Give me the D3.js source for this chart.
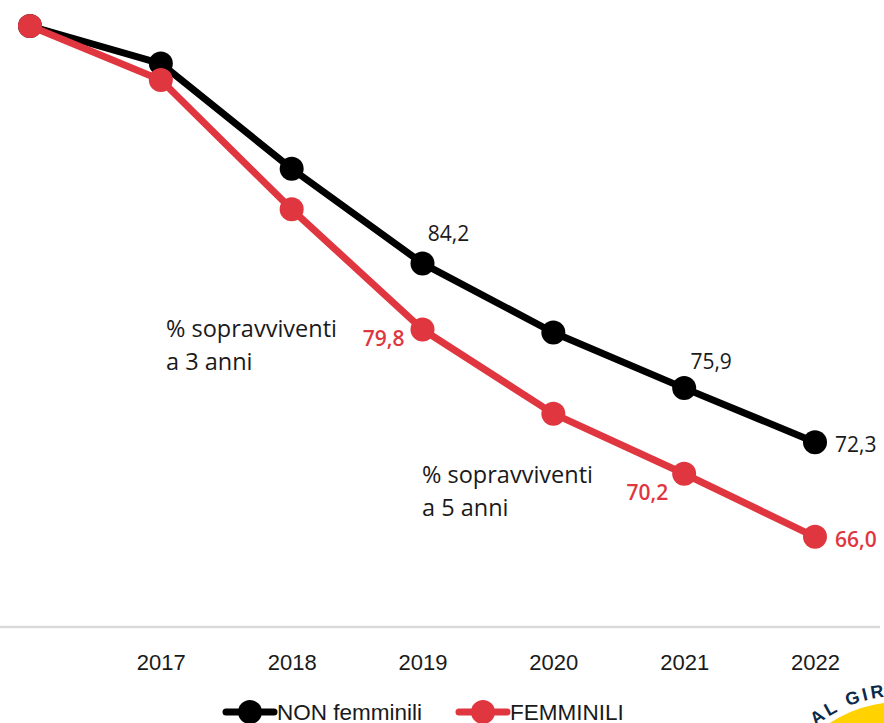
<!DOCTYPE html>
<html>
<head>
<meta charset="utf-8">
<script src="https://cdnjs.cloudflare.com/ajax/libs/d3/7.8.5/d3.min.js"></script>
<style>
  body { margin: 0; background: #fff; }
  svg { display: block; }
</style>
</head>
<body>
<svg id="plotCanvas" width="884" height="723"></svg>
<script>
// data
var years = ["2016", "2017", "2018", "2019", "2020", "2021", "2022"];
var tickLabels = ["", "2017", "2018", "2019", "2020", "2021", "2022"];
var nonFemminili = [100, 97.5, 90.5, 84.2, 79.6, 75.9, 72.3];
var femminili = [100, 96.4, 87.8, 79.8, 74.2, 70.2, 66.0];
var seriesNames = ["NON femminili", "FEMMINILI"];

var canvasWidth = 884;
var canvasHeight = 723;
var black = "#000000";
var red = "#E0363F";
var axisFont = "'Liberation Sans', Arial, sans-serif";
var textFont = "'Open Sans', 'Noto Sans', sans-serif";

var canvas = d3.select("#plotCanvas");

var x = d3.scalePoint()
        .domain(years)
        .range([30, 815]);

var y = d3.scaleLinear()
        .domain([60, 100])
        .range([627, 26]);

//grey baseline
canvas.append("line")
        .attr("x1", 0)
        .attr("x2", 880)
        .attr("y1", y(60))
        .attr("y2", y(60))
        .attr("stroke", "#d9d9d9")
        .attr("stroke-width", 2.5);

//x axis: year labels only
var axis = d3.axisBottom(x)
        .tickSize(0)
        .tickPadding(27)
        .tickFormat(function(d, i) { return tickLabels[i]; });

var gAxis = canvas.append("g")
        .attr("transform", "translate(0," + y(60) + ")")
        .call(axis);
gAxis.select(".domain").remove();
gAxis.selectAll("text")
        .attr("font-family", axisFont)
        .attr("font-size", "22px")
        .attr("fill", "#1a1a1a");

var line = d3.line()
        .x(function(d) { return x(d.year); })
        .y(function(d) { return y(d.value); });

function drawSeries(values, color)
{
   var pts = years.map(function(yr, i) { return {year: yr, value: values[i]}; });
   canvas.append("path")
         .datum(pts)
         .attr("d", line)
         .attr("fill", "none")
         .attr("stroke", color)
         .attr("stroke-width", 7)
         .attr("stroke-linejoin", "round");
   canvas.append("g").selectAll("circle")
         .data(pts)
         .enter().append("circle")
         .attr("cx", function(d) { return x(d.year); })
         .attr("cy", function(d) { return y(d.value); })
         .attr("r", 12)
         .attr("fill", color);
}

drawSeries(nonFemminili, black);
drawSeries(femminili, red);

function fmt(v)
{
   return v.toFixed(1).replace(".", ",");
}

//value labels, black series
var nonLabels = [
   {year: "2019", dx: 26, dy: -30, anchor: "middle"},
   {year: "2021", dx: 27, dy: -26, anchor: "middle"},
   {year: "2022", dx: 20, dy: 2, anchor: "start"}
];
nonLabels.forEach(function(l) {
   var i = years.indexOf(l.year);
   canvas.append("text")
         .attr("x", x(l.year) + l.dx)
         .attr("y", y(nonFemminili[i]) + l.dy)
         .attr("dy", "0.35em")
         .attr("text-anchor", l.anchor)
         .attr("font-family", textFont)
         .attr("font-size", "21px")
         .attr("fill", "#1a1a1a")
         .text(fmt(nonFemminili[i]));
});

//value labels, red series
var femLabels = [
   {year: "2019", dx: -18, dy: 9, anchor: "end"},
   {year: "2021", dx: -16, dy: 19, anchor: "end"},
   {year: "2022", dx: 20, dy: 3, anchor: "start"}
];
femLabels.forEach(function(l) {
   var i = years.indexOf(l.year);
   canvas.append("text")
         .attr("x", x(l.year) + l.dx)
         .attr("y", y(femminili[i]) + l.dy)
         .attr("dy", "0.35em")
         .attr("text-anchor", l.anchor)
         .attr("font-family", textFont)
         .attr("font-weight", 600)
         .attr("font-size", "21px")
         .attr("fill", red)
         .text(fmt(femminili[i]));
});

//annotations
function annotation(left, top, lines)
{
   lines.forEach(function(t, k) {
      canvas.append("text")
            .attr("x", left)
            .attr("y", top + k * 33)
            .attr("dy", "0.35em")
            .attr("font-family", textFont)
            .attr("font-size", "23.5px")
            .attr("fill", "#1a1a1a")
            .text(t);
   });
}
annotation(166, 329, ["% sopravviventi", "a 3 anni"]);
annotation(422, 475, ["% sopravviventi", "a 5 anni"]);

//legend
var legendItems = [
   {name: seriesNames[0], color: black, x0: 226},
   {name: seriesNames[1], color: red, x0: 459}
];
legendItems.forEach(function(it) {
   var ly = 712;
   canvas.append("line")
         .attr("x1", it.x0)
         .attr("x2", it.x0 + 48)
         .attr("y1", ly)
         .attr("y2", ly)
         .attr("stroke", it.color)
         .attr("stroke-width", 7)
         .attr("stroke-linecap", "round");
   canvas.append("circle")
         .attr("cx", it.x0 + 24)
         .attr("cy", ly)
         .attr("r", 12)
         .attr("fill", it.color);
   canvas.append("text")
         .attr("x", it.x0 + 51)
         .attr("y", ly)
         .attr("dy", "0.35em")
         .attr("font-family", axisFont)
         .attr("font-size", "22.5px")
         .attr("fill", "#1a1a1a")
         .text(it.name);
});

//logo peeking in at the bottom right corner
var cx = 900, cy = 830, r = 128, rt = 134;
var logo = canvas.append("g");
logo.append("circle")
    .attr("cx", cx)
    .attr("cy", cy)
    .attr("r", r)
    .attr("fill", "#FFD200");
var a0 = -150 * Math.PI / 180, a1 = -50 * Math.PI / 180;
var arcPath = "M" + (cx + rt * Math.cos(a0)) + "," + (cy + rt * Math.sin(a0)) +
              " A" + rt + "," + rt + " 0 0,1 " + (cx + rt * Math.cos(a1)) + "," + (cy + rt * Math.sin(a1));
logo.append("path")
    .attr("id", "logoArc")
    .attr("d", arcPath)
    .attr("fill", "none");
logo.append("text")
    .attr("font-family", axisFont)
    .attr("font-weight", "bold")
    .attr("font-size", "18px")
    .attr("fill", "#0B2A4A")
    .attr("letter-spacing", "3px")
    .append("textPath")
    .attr("href", "#logoArc")
    .attr("startOffset", "49")
    .text("AL GIRO");
</script>
</body>
</html>
